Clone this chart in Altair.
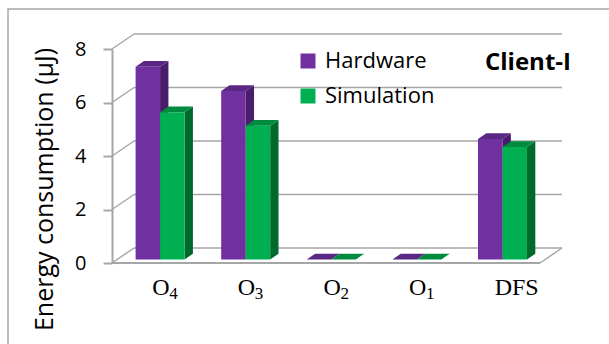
import altair as alt
import pandas as pd

# ---- chart data -------------------------------------------------------
categories = ["O4", "O3", "O2", "O1", "DFS"]
hardware = [7.2, 6.3, 0.0, 0.0, 4.5]
simulation = [5.5, 5.0, 0.0, 0.0, 4.2]
series_names = ["Hardware", "Simulation"]
y_ticks = [0, 2, 4, 6, 8]

# ---- colours ----------------------------------------------------------
front_colors = ["#7030a0", "#00b050"]
top_colors = ["#5b2784", "#008a3d"]
side_colors = ["#4a1c6c", "#006a2e"]
line_gray = "#a6a6a6"

# ---- pseudo-3D projection set-up -----------------------------------------
x_domain = [-0.5, len(categories) - 0.5]
x_range = [112, 540]
y_domain = [0, 8]
y_range = [263, 49]
px_x = (x_range[1] - x_range[0]) / (x_domain[1] - x_domain[0])
px_y = (y_range[0] - y_range[1]) / (y_domain[1] - y_domain[0])
DX = 22 / px_x          # full floor depth, expressed in x units
DY = 15 / px_y          # full floor depth, expressed in y units
F0, F1 = 0.24, 0.62     # front / back depth of the columns
BW = 0.286              # column width in category units

x_scale = alt.Scale(domain=x_domain, range=x_range, nice=False, zero=False)
y_scale = alt.Scale(domain=y_domain, range=y_range, nice=False, zero=False)

y_axis = alt.Axis(
    values=y_ticks, offset=-x_range[0], tickSize=9, tickWidth=2,
    tickColor=line_gray, domainColor=line_gray, domainWidth=2,
    labelFont="Open Sans", labelFontSize=20, labelColor="black",
    labelPadding=17, grid=False,
    title="Energy consumption (µJ)", titleFont="Open Sans", titleFontSize=25,
    titleFontWeight="normal", titleColor="black", titleAngle=270,
    titleBaseline="alphabetic", titleAlign="center", titleX=-60, titleY=189,
)

# ---- build faces ------------------------------------------------------
fronts, sides, tops = [], [], []
for s, (name, values) in enumerate(zip(series_names, [hardware, simulation])):
    for i, (cat, v) in enumerate(zip(categories, values)):
        key = f"{name}-{cat}"
        xl = i - BW + s * BW + F0 * DX
        xr = xl + BW
        fronts.append(dict(series=name, category=cat, x=xl, x2=xr,
                           y=F0 * DY, y2=v + F0 * DY))
        sdx = (F1 - F0) * DX
        sides.append(dict(series=name, key=key, x=xr, y=v + F0 * DY, y2=F0 * DY))
        sides.append(dict(series=name, key=key, x=xr + sdx, y=v + F1 * DY, y2=F1 * DY))
        tops.append(dict(series=name, key=key, y=v + F0 * DY, x=xl, x2=xr))
        tops.append(dict(series=name, key=key, y=v + F1 * DY, x=xl + sdx, x2=xr + sdx))

front_df = pd.DataFrame(fronts)
side_df = pd.DataFrame(sides)
top_df = pd.DataFrame(tops)

# wall / floor outline segments
segs = []
for v in y_ticks:
    segs.append(dict(x=x_domain[0] + DX, x2=x_domain[1] + DX, y=v + DY, y2=v + DY, w=1.5))
    segs.append(dict(x=x_domain[0], x2=x_domain[0] + DX, y=v, y2=v + DY, w=1.5))
segs.append(dict(x=x_domain[0], x2=x_domain[1], y=0, y2=0, w=2.2))
segs.append(dict(x=x_domain[1], x2=x_domain[1] + DX, y=0, y2=DY, w=1.5))
seg_df = pd.DataFrame(segs)

walls = alt.Chart(seg_df).mark_rule(color=line_gray).encode(
    x=alt.X("x:Q", scale=x_scale, axis=None),
    x2="x2:Q",
    y=alt.Y("y:Q", scale=y_scale, axis=y_axis),
    y2="y2:Q",
    strokeWidth=alt.StrokeWidth("w:Q", scale=None),
)


def side_layer(k):
    return alt.Chart(side_df[side_df.series == series_names[k]]).mark_area(
        orient="vertical", color=side_colors[k]
    ).encode(
        x=alt.X("x:Q", scale=x_scale, axis=None),
        y=alt.Y("y:Q", scale=y_scale, axis=y_axis),
        y2="y2:Q",
        detail="key:N",
    )


def top_layer(k):
    return alt.Chart(top_df[top_df.series == series_names[k]]).mark_area(
        orient="horizontal", color=top_colors[k]
    ).encode(
        y=alt.Y("y:Q", scale=y_scale, axis=y_axis),
        x=alt.X("x:Q", scale=x_scale, axis=None),
        x2="x2:Q",
        detail="key:N",
    )


front = alt.Chart(front_df).mark_rect().encode(
    x=alt.X("x:Q", scale=x_scale, axis=None),
    x2="x2:Q",
    y=alt.Y("y:Q", scale=y_scale, axis=y_axis),
    y2="y2:Q",
    color=alt.Color(
        "series:N",
        scale=alt.Scale(domain=series_names, range=front_colors),
        legend=alt.Legend(
            title=None, orient="none", legendX=297, legendY=50,
            symbolType="square", symbolSize=225, symbolStrokeWidth=0,
            symbolOpacity=1, labelFont="Open Sans", labelFontSize=22,
            labelColor="black", labelOffset=6, rowPadding=13, padding=0,
        ),
    ),
)

# category labels: main letter(s) plus a subscript digit
lab_rows = []
for i, cat in enumerate(categories):
    if cat.startswith("O"):
        lab_rows.append(dict(x=i - 0.03, base="O", sub=cat[1:]))
    else:
        lab_rows.append(dict(x=i - 0.03, base=cat, sub=""))
lab_df = pd.DataFrame(lab_rows)
lab_df["y"] = 0.0

base_labels = alt.Chart(lab_df).mark_text(
    font="Liberation Serif", fontSize=24, align="left", baseline="alphabetic",
    dy=32, color="black",
).encode(
    x=alt.X("x:Q", scale=x_scale, axis=None),
    y=alt.Y("y:Q", scale=y_scale, axis=y_axis),
    text="base:N",
)
sub_labels = alt.Chart(lab_df).mark_text(
    font="Liberation Serif", fontSize=17, align="left", baseline="alphabetic",
    dx=17, dy=35.5, color="black",
).encode(
    x=alt.X("x:Q", scale=x_scale, axis=None),
    y=alt.Y("y:Q", scale=y_scale, axis=y_axis),
    text="sub:N",
)

panel_title = alt.Chart(pd.DataFrame({"t": ["Client-I"]})).mark_text(
    font="Open Sans", fontSize=24, fontWeight="bold", align="left",
    baseline="alphabetic", color="black",
).encode(x=alt.value(485), y=alt.value(70), text="t:N")

frame = alt.Chart(pd.DataFrame({"a": [0]})).mark_rect(
    fill=None, stroke=line_gray, strokeWidth=1.5
).encode(x=alt.value(8), y=alt.value(9), x2=alt.value(660), y2=alt.value(400))

chart = alt.layer(
    frame, walls,
    side_layer(0), top_layer(0), side_layer(1), top_layer(1),
    front, base_labels, sub_labels, panel_title,
).properties(
    width=609, height=344,
    autosize=alt.AutoSizeParams(type="none"),
    padding=0, background="white",
).configure_view(stroke=None)

chart.save("out.html", embed_options={"renderer": "svg", "actions": False})
